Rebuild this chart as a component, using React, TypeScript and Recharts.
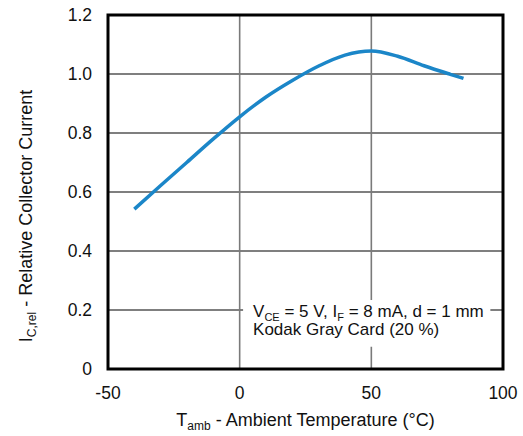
import React from "react";
import {
  LineChart,
  Line,
  XAxis,
  YAxis,
  CartesianGrid,
  ReferenceArea,
} from "recharts";

const temps = [-40, -30, -20, -10, 0, 10, 20, 30, 40, 50, 60, 70, 80, 85];
const icRel = [0.542, 0.622, 0.701, 0.78, 0.855, 0.922, 0.978, 1.027, 1.064, 1.078, 1.06, 1.028, 0.999, 0.985];
const xTicks = [-50, 0, 50, 100];
const yTicks = [0, 0.2, 0.4, 0.6, 0.8, 1.0, 1.2];

const data = temps.map((t, i) => ({ t, v: icRel[i] }));

const FONT = '"Liberation Sans", Arial, Helvetica, sans-serif';
const TXT = "#111";

const XTick = (props: any) => {
  const { x, y, payload } = props;
  return (
    <text x={x} y={y} dy="0.71em" textAnchor="middle" fontSize={17.5} fontFamily={FONT} fill={TXT}>
      {payload.value}
    </text>
  );
};

const YTick = (props: any) => {
  const { x, y, payload } = props;
  const v = payload.value === 0 ? "0" : Number(payload.value).toFixed(1);
  return (
    <text x={x} y={y} dy="0.355em" textAnchor="end" fontSize={17.5} fontFamily={FONT} fill={TXT}>
      {v}
    </text>
  );
};

const renderBox = (props: any) => {
  const vb = props.viewBox || {};
  const x = vb.x + 10;
  const y = vb.y;
  return (
    <g fontFamily={FONT} fill={TXT}>
      <text x={x} y={y + 17} fontSize={17}>
        V<tspan fontSize={11} dy={4}>CE</tspan>
        <tspan dy={-4}> = 5 V, I</tspan>
        <tspan fontSize={11} dy={4}>F</tspan>
        <tspan dy={-4}> = 8 mA, d = 1 mm</tspan>
      </text>
      <text x={x} y={y + 35} fontSize={17}>
        Kodak Gray Card (20 %)
      </text>
    </g>
  );
};

const renderXLabel = (props: any) => {
  const vb = props.viewBox || {};
  const cx = vb.x + vb.width / 2;
  return (
    <text x={cx} y={426} textAnchor="middle" fontSize={18} fontFamily={FONT} fill={TXT}>
      T<tspan fontSize={12} dy={4}>amb</tspan>
      <tspan dy={-4}> - Ambient Temperature (°C)</tspan>
    </text>
  );
};

const renderYLabel = (props: any) => {
  const vb = props.viewBox || {};
  const cy = vb.y + vb.height / 2 + 24;
  const bx = 32;
  return (
    <text
      x={bx}
      y={cy}
      transform={`rotate(-90, ${bx}, ${cy})`}
      textAnchor="middle"
      fontSize={18}
      fontFamily={FONT}
      fill={TXT}
    >
      I<tspan fontSize={12} dy={4}>C,rel</tspan>
      <tspan dy={-4}> - Relative Collector Current</tspan>
    </text>
  );
};

export default function App() {
  return (
    <div style={{ position: "absolute", left: 0, top: 0, background: "#fff" }}>
      <LineChart
        width={523}
        height={436}
        data={data}
        margin={{ top: 15, right: 20, bottom: 0, left: 0 }}
      >
        <CartesianGrid vertical={false} stroke="#000" strokeWidth={1.2} />
        <CartesianGrid horizontal={false} stroke="#7a7a7a" strokeWidth={1.6} />
        <XAxis
          dataKey="t"
          type="number"
          domain={[-50, 100]}
          ticks={xTicks}
          height={67}
          axisLine={false}
          tickLine={false}
          tickSize={0}
          tickMargin={18}
          tick={<XTick />}
          interval={0}
          label={renderXLabel}
        />
        <YAxis
          type="number"
          domain={[0, 1.2]}
          ticks={yTicks}
          width={108}
          axisLine={false}
          tickLine={false}
          tickSize={0}
          tickMargin={16}
          tick={<YTick />}
          interval={0}
          label={renderYLabel}
        />
        <ReferenceArea
          x1={1.3}
          x2={95.2}
          y1={0.0756}
          y2={0.234}
          fill="#fff"
          fillOpacity={1}
          stroke="none"
          label={renderBox}
        />
        <ReferenceArea
          x1={-50}
          x2={100}
          y1={0}
          y2={1.2}
          fill="none"
          stroke="#000"
          strokeWidth={3}
          ifOverflow="visible"
        />
        <Line
          type="monotone"
          dataKey="v"
          stroke="#1b86c8"
          strokeWidth={3.5}
          dot={false}
          isAnimationActive={false}
        />
      </LineChart>
    </div>
  );
}
